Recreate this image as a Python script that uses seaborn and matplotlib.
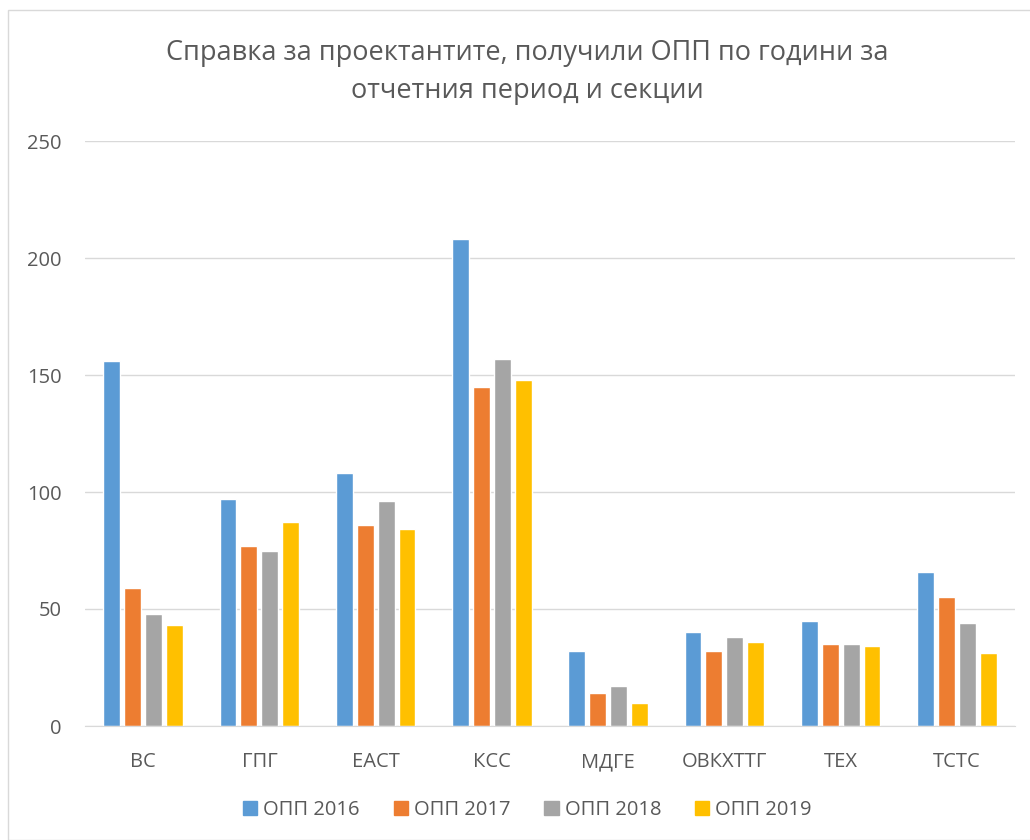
import matplotlib.pyplot as plt
import matplotlib.patches as mpatches
import pandas as pd
import seaborn as sns

# data
sections = ["ВС", "ГПГ", "ЕАСТ", "КСС", "МДГЕ", "ОВКХТТГ", "ТЕХ", "ТСТС"]
years = ["ОПП 2016", "ОПП 2017", "ОПП 2018", "ОПП 2019"]
opp_2016 = [156, 97, 108, 208, 32, 40, 45, 66]
opp_2017 = [59, 77, 86, 145, 14, 32, 35, 55]
opp_2018 = [48, 75, 96, 157, 17, 38, 35, 44]
opp_2019 = [43, 87, 84, 148, 10, 36, 34, 31]
colors = ["#5B9BD5", "#ED7D31", "#A5A5A5", "#FFC000"]

rows = []
for year, vals in zip(years, [opp_2016, opp_2017, opp_2018, opp_2019]):
    for sec, v in zip(sections, vals):
        rows.append({"section": sec, "year": year, "value": v})
df = pd.DataFrame(rows)

sns.set_style("white")
plt.rcParams["font.family"] = ["Open Sans", "DejaVu Sans"]
text_color = "#595959"

fig = plt.figure(figsize=(10.3, 8.4), dpi=100)
ax = fig.add_axes([85 / 1030, 1 - 726 / 840, 930 / 1030, 585 / 840])

sns.barplot(data=df, x="section", y="value", hue="year", palette=colors,
            width=0.72, gap=0.19, ax=ax, legend=False, saturation=1)

ax.set_ylim(0, 250)
ax.set_yticks([0, 50, 100, 150, 200, 250])
ax.yaxis.grid(True, color="#D9D9D9", linewidth=1)
ax.set_axisbelow(True)
for s in ["top", "right", "left"]:
    ax.spines[s].set_visible(False)
ax.spines["bottom"].set_color("#D9D9D9")
ax.tick_params(axis="both", length=0, labelsize=14.5, colors=text_color)
ax.tick_params(axis="x", pad=19)
ax.tick_params(axis="y", pad=17)
ax.set_xlabel("")
ax.set_ylabel("")

fig.text(0.512, 1 - 53 / 840, "Справка за проектантите, получили ОПП по години за",
         ha="center", va="center", fontsize=19.5, color=text_color)
fig.text(0.512, 1 - 91 / 840, "отчетния период и секции",
         ha="center", va="center", fontsize=19.5, color=text_color)

handles = [mpatches.Patch(color=c, label=y) for c, y in zip(colors, years)]
fig.legend(handles=handles, loc="center", bbox_to_anchor=(0.512, 1 - 810 / 840),
           ncol=4, frameon=False, fontsize=14.5, handlelength=0.7, handleheight=0.7,
           handletextpad=0.3, columnspacing=1.7, labelcolor=text_color)

# light frame around the chart area
fig.patches.append(mpatches.Rectangle((8 / 1030, 0), 1.1, 1 - 10 / 840,
                                      transform=fig.transFigure, fill=False,
                                      edgecolor="#D9D9D9", linewidth=1))

fig.savefig("out.png", dpi=100)
